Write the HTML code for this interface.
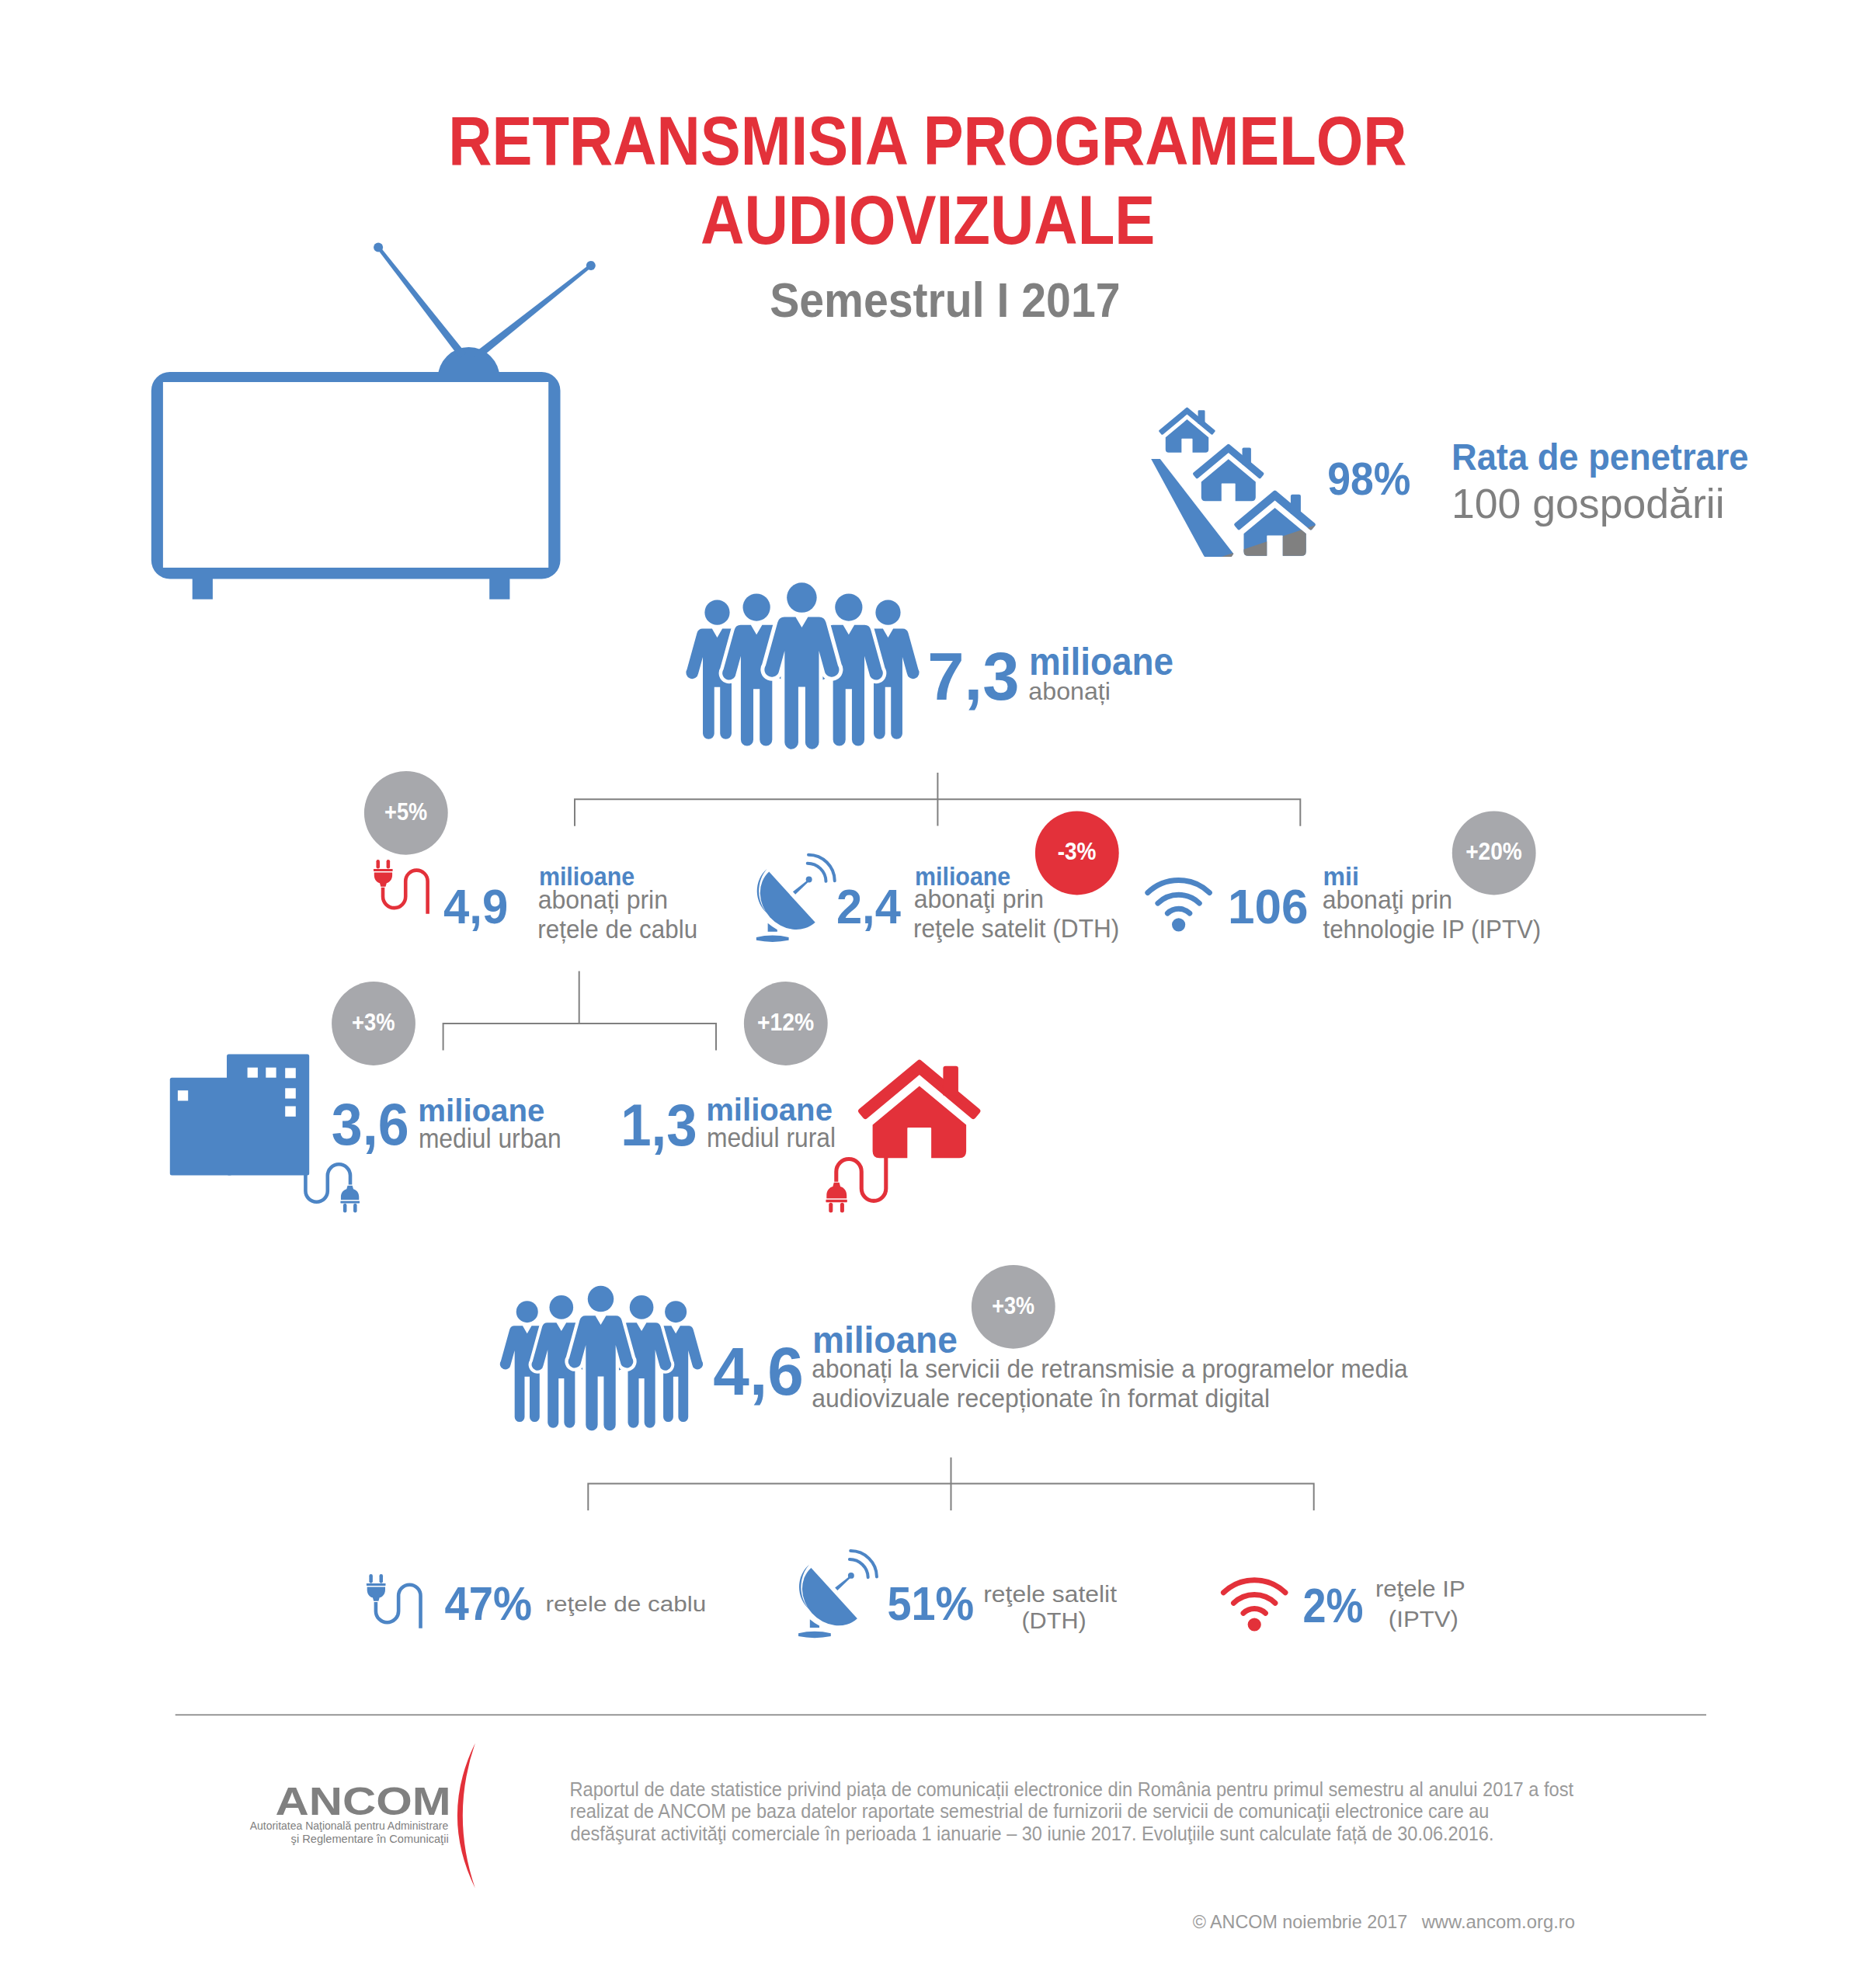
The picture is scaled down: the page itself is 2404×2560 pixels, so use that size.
<!DOCTYPE html>
<html><head><meta charset="utf-8"><title>Retransmisia programelor audiovizuale</title>
<style>
html,body{margin:0;padding:0;background:#fff;}
body{width:2404px;height:2560px;overflow:hidden;position:relative;}
svg{position:absolute;left:0;top:0;display:block;}
text{font-family:"Liberation Sans",sans-serif;}
</style></head><body>
<svg width="2404" height="2560" viewBox="0 0 2404 2560">
<rect width="2404" height="2560" fill="#FFFFFF"/>
<path fill="#4D85C5" fill-rule="evenodd" d="M218.8,479 H697.5 A24,24 0 0 1 721.5,503 V721.5 A24,24 0 0 1 697.5,745.5 H218.8 A24,24 0 0 1 194.8,721.5 V503 A24,24 0 0 1 218.8,479 Z M209.9,492.1 V731 H706.2 V492.1 Z"/>
<rect x="247.7" y="744" width="26.2" height="27.7" fill="#4D85C5"/>
<rect x="630.2" y="744" width="26.2" height="27.7" fill="#4D85C5"/>
<clipPath id="domeclip"><rect x="500" y="400" width="200" height="85"/></clipPath>
<circle cx="603.6" cy="486.8" r="39.8" fill="#4D85C5" clip-path="url(#domeclip)"/>
<polygon fill="#4D85C5" points="485.33,319.88 592.06,461.08 599.94,454.92 488.87,317.12"/>
<polygon fill="#4D85C5" points="759.40,340.24 608.74,455.89 615.26,464.11 762.20,343.76"/>
<circle cx="487.1" cy="318.5" r="6" fill="#4D85C5"/>
<circle cx="760.8" cy="342" r="6" fill="#4D85C5"/>
<path fill="none" stroke="#808080" stroke-width="2" d="M1207.4,995.0 V1063.5 M740.0,1063.8 V1029.2 H1674.3 V1063.8"/>
<path fill="none" stroke="#808080" stroke-width="2" d="M745.7,1250.5 V1318.0 M570.6,1352.5 V1318.0 H922.0 V1352.5"/>
<path fill="none" stroke="#808080" stroke-width="2" d="M1224.5,1876.8 V1945.0 M757.3,1945.0 V1910.4 H1691.7 V1945.0"/>
<rect x="225.7" y="2207.5" width="1971.3" height="1.6" fill="#808080"/>
<circle cx="522.80" cy="1046.80" r="53.9" fill="#A7A8AC"/>
<circle cx="1386.80" cy="1098.50" r="53.9" fill="#E3313A"/>
<circle cx="1923.70" cy="1098.50" r="53.9" fill="#A7A8AC"/>
<circle cx="481.00" cy="1318.00" r="53.9" fill="#A7A8AC"/>
<circle cx="1011.80" cy="1318.00" r="53.9" fill="#A7A8AC"/>
<circle cx="1304.80" cy="1682.80" r="53.9" fill="#A7A8AC"/>
<g transform="translate(1032.40,769.60) scale(0.16604)"><g transform="translate(-656.0,115.0) scale(0.8360)"><circle cx="0" cy="0" r="116" fill="#4D85C5"/><path d="M-135,150 L-48,150 L0,232 L48,150 L135,150 Q175,150 187,190 L280,527 A57,57 0 1 1 176,567 L133,412 L133,1122 A53,53 0 0 1 27,1122 L27,692 L-27,692 L-27,1122 A53,53 0 0 1 -133,1122 L-133,412 L-176,567 A57,57 0 1 1 -280,527 L-187,190 Q-175,150 -135,150 Z" fill="#4D85C5"/></g><g transform="translate(669.0,115.0) scale(0.8360)"><circle cx="0" cy="0" r="116" fill="#4D85C5"/><path d="M-135,150 L-48,150 L0,232 L48,150 L135,150 Q175,150 187,190 L280,527 A57,57 0 1 1 176,567 L133,412 L133,1122 A53,53 0 0 1 27,1122 L27,692 L-27,692 L-27,1122 A53,53 0 0 1 -133,1122 L-133,412 L-176,567 A57,57 0 1 1 -280,527 L-187,190 Q-175,150 -135,150 Z" fill="#4D85C5"/></g><g transform="translate(-351.0,75.0) scale(0.9150)"><circle cx="0" cy="0" r="116" fill="#4D85C5"/><path d="M-135,150 L-48,150 L0,232 L48,150 L135,150 Q175,150 187,190 L280,527 A57,57 0 1 1 176,567 L133,412 L133,1122 A53,53 0 0 1 27,1122 L27,692 L-27,692 L-27,1122 A53,53 0 0 1 -133,1122 L-133,412 L-176,567 A57,57 0 1 1 -280,527 L-187,190 Q-175,150 -135,150 Z" fill="#4D85C5" stroke="#FFFFFF" stroke-width="60" stroke-linejoin="round" paint-order="stroke"/></g><g transform="translate(364.0,75.0) scale(0.9150)"><circle cx="0" cy="0" r="116" fill="#4D85C5"/><path d="M-135,150 L-48,150 L0,232 L48,150 L135,150 Q175,150 187,190 L280,527 A57,57 0 1 1 176,567 L133,412 L133,1122 A53,53 0 0 1 27,1122 L27,692 L-27,692 L-27,1122 A53,53 0 0 1 -133,1122 L-133,412 L-176,567 A57,57 0 1 1 -280,527 L-187,190 Q-175,150 -135,150 Z" fill="#4D85C5" stroke="#FFFFFF" stroke-width="60" stroke-linejoin="round" paint-order="stroke"/></g><g transform="translate(0.0,0.0) scale(1.0000)"><circle cx="0" cy="0" r="116" fill="#4D85C5"/><path d="M-135,150 L-48,150 L0,232 L48,150 L135,150 Q175,150 187,190 L280,527 A57,57 0 1 1 176,567 L133,412 L133,1122 A53,53 0 0 1 27,1122 L27,692 L-27,692 L-27,1122 A53,53 0 0 1 -133,1122 L-133,412 L-176,567 A57,57 0 1 1 -280,527 L-187,190 Q-175,150 -135,150 Z" fill="#4D85C5" stroke="#FFFFFF" stroke-width="60" stroke-linejoin="round" paint-order="stroke"/></g></g>
<g transform="translate(773.50,1672.60) scale(0.14445)"><g transform="translate(-656.0,115.0) scale(0.8360)"><circle cx="0" cy="0" r="116" fill="#4D85C5"/><path d="M-135,150 L-48,150 L0,232 L48,150 L135,150 Q175,150 187,190 L280,527 A57,57 0 1 1 176,567 L133,412 L133,1122 A53,53 0 0 1 27,1122 L27,692 L-27,692 L-27,1122 A53,53 0 0 1 -133,1122 L-133,412 L-176,567 A57,57 0 1 1 -280,527 L-187,190 Q-175,150 -135,150 Z" fill="#4D85C5"/></g><g transform="translate(669.0,115.0) scale(0.8360)"><circle cx="0" cy="0" r="116" fill="#4D85C5"/><path d="M-135,150 L-48,150 L0,232 L48,150 L135,150 Q175,150 187,190 L280,527 A57,57 0 1 1 176,567 L133,412 L133,1122 A53,53 0 0 1 27,1122 L27,692 L-27,692 L-27,1122 A53,53 0 0 1 -133,1122 L-133,412 L-176,567 A57,57 0 1 1 -280,527 L-187,190 Q-175,150 -135,150 Z" fill="#4D85C5"/></g><g transform="translate(-351.0,75.0) scale(0.9150)"><circle cx="0" cy="0" r="116" fill="#4D85C5"/><path d="M-135,150 L-48,150 L0,232 L48,150 L135,150 Q175,150 187,190 L280,527 A57,57 0 1 1 176,567 L133,412 L133,1122 A53,53 0 0 1 27,1122 L27,692 L-27,692 L-27,1122 A53,53 0 0 1 -133,1122 L-133,412 L-176,567 A57,57 0 1 1 -280,527 L-187,190 Q-175,150 -135,150 Z" fill="#4D85C5" stroke="#FFFFFF" stroke-width="60" stroke-linejoin="round" paint-order="stroke"/></g><g transform="translate(364.0,75.0) scale(0.9150)"><circle cx="0" cy="0" r="116" fill="#4D85C5"/><path d="M-135,150 L-48,150 L0,232 L48,150 L135,150 Q175,150 187,190 L280,527 A57,57 0 1 1 176,567 L133,412 L133,1122 A53,53 0 0 1 27,1122 L27,692 L-27,692 L-27,1122 A53,53 0 0 1 -133,1122 L-133,412 L-176,567 A57,57 0 1 1 -280,527 L-187,190 Q-175,150 -135,150 Z" fill="#4D85C5" stroke="#FFFFFF" stroke-width="60" stroke-linejoin="round" paint-order="stroke"/></g><g transform="translate(0.0,0.0) scale(1.0000)"><circle cx="0" cy="0" r="116" fill="#4D85C5"/><path d="M-135,150 L-48,150 L0,232 L48,150 L135,150 Q175,150 187,190 L280,527 A57,57 0 1 1 176,567 L133,412 L133,1122 A53,53 0 0 1 27,1122 L27,692 L-27,692 L-27,1122 A53,53 0 0 1 -133,1122 L-133,412 L-176,567 A57,57 0 1 1 -280,527 L-187,190 Q-175,150 -135,150 Z" fill="#4D85C5" stroke="#FFFFFF" stroke-width="60" stroke-linejoin="round" paint-order="stroke"/></g></g>
<g fill="#4D85C5" transform="translate(1020.00,1990.00) scale(0.064275)"><path d="M380,450 L1305,1465 A686,600 47.66 0 1 380,450 Z"/><path d="M340,390 C70,620 72,1060 355,1290 C122,1060 120,640 340,390 Z"/><polygon points="858,848 1130,635 1158,662 908,902"/><circle cx="1180" cy="605" r="62"/><path d="M1150,280 A370,370 0 0 1 1520,640" fill="none" stroke="#4D85C5" stroke-width="62" stroke-linecap="round"/><path d="M1170,110 A525,525 0 0 1 1695,630" fill="none" stroke="#4D85C5" stroke-width="62" stroke-linecap="round"/><path d="M355,1480 Q450,1560 545,1610 L545,1650 L355,1650 Z"/><path d="M125,1762 Q450,1688 775,1762 V1822 Q450,1888 125,1822 Z"/></g>
<g fill="#4D85C5" transform="translate(965.80,1093.70) scale(0.064275)"><path d="M380,450 L1305,1465 A686,600 47.66 0 1 380,450 Z"/><path d="M340,390 C70,620 72,1060 355,1290 C122,1060 120,640 340,390 Z"/><polygon points="858,848 1130,635 1158,662 908,902"/><circle cx="1180" cy="605" r="62"/><path d="M1150,280 A370,370 0 0 1 1520,640" fill="none" stroke="#4D85C5" stroke-width="62" stroke-linecap="round"/><path d="M1170,110 A525,525 0 0 1 1695,630" fill="none" stroke="#4D85C5" stroke-width="62" stroke-linecap="round"/><path d="M355,1480 Q450,1560 545,1610 L545,1650 L355,1650 Z"/><path d="M125,1762 Q450,1688 775,1762 V1822 Q450,1888 125,1822 Z"/></g>
<g fill="none" stroke="#4D85C5" stroke-width="6.9" stroke-linecap="round"><path d="M1503.36,1176.05 A20.50,20.50 0 0 1 1531.84,1176.05"/><path d="M1490.86,1163.11 A38.50,38.50 0 0 1 1544.34,1163.11"/><path d="M1477.80,1149.58 A57.30,57.30 0 0 1 1557.40,1149.58"/></g><circle cx="1517.60" cy="1190.80" r="8.6" fill="#4D85C5"/>
<g fill="none" stroke="#E3313A" stroke-width="6.9" stroke-linecap="round"><path d="M1600.96,2077.25 A20.50,20.50 0 0 1 1629.44,2077.25"/><path d="M1588.46,2064.31 A38.50,38.50 0 0 1 1641.94,2064.31"/><path d="M1575.40,2050.78 A57.30,57.30 0 0 1 1655.00,2050.78"/></g><circle cx="1615.20" cy="2092.00" r="8.6" fill="#E3313A"/>
<g fill="#E3313A" color="#E3313A" transform="translate(493.74,1141.10) rotate(0) scale(0.24102,0.24102)"><rect x="-38.5" y="-141.6" width="18.8" height="48" rx="9.4"/><rect x="16" y="-141.6" width="18.8" height="48" rx="9.4"/><rect x="-52.9" y="-91.6" width="102.2" height="12.2" rx="2"/><path d="M-49.6,-73 H47.1 V-58 C47.1,-35 33,-20 16.9,-16 L11.4,2.8 H-14.2 L-19.7,-16 C-36,-20 -49.6,-35 -49.6,-58 Z"/><path d="M-3,7.3 L-3,55.8 A60.6,60.6 0 0 0 118.2,55.8 L118.2,-26.2 A58.9,58.9 0 0 1 236,-26.2 L236,147.4" fill="none" stroke="currentColor" stroke-width="19"/></g>
<g fill="#4D85C5" color="#4D85C5" transform="translate(484.64,2061.20) rotate(0) scale(0.24102,0.24102)"><rect x="-38.5" y="-141.6" width="18.8" height="48" rx="9.4"/><rect x="16" y="-141.6" width="18.8" height="48" rx="9.4"/><rect x="-52.9" y="-91.6" width="102.2" height="12.2" rx="2"/><path d="M-49.6,-73 H47.1 V-58 C47.1,-35 33,-20 16.9,-16 L11.4,2.8 H-14.2 L-19.7,-16 C-36,-20 -49.6,-35 -49.6,-58 Z"/><path d="M-3,7.3 L-3,55.8 A60.6,60.6 0 0 0 118.2,55.8 L118.2,-26.2 A58.9,58.9 0 0 1 236,-26.2 L236,147.4" fill="none" stroke="currentColor" stroke-width="19"/></g>
<g fill="#4D85C5" color="#4D85C5" transform="translate(450.30,1527.30) rotate(180) scale(0.24102,0.24102)"><rect x="-38.5" y="-141.6" width="18.8" height="48" rx="9.4"/><rect x="16" y="-141.6" width="18.8" height="48" rx="9.4"/><rect x="-52.9" y="-91.6" width="102.2" height="12.2" rx="2"/><path d="M-49.6,-73 H47.1 V-58 C47.1,-35 33,-20 16.9,-16 L11.4,2.8 H-14.2 L-19.7,-16 C-36,-20 -49.6,-35 -49.6,-58 Z"/><path d="M-3,7.3 L-3,55.8 A60.6,60.6 0 0 0 118.2,55.8 L118.2,-26.2 A58.9,58.9 0 0 1 236,-26.2 L236,147.4" fill="none" stroke="currentColor" stroke-width="19"/></g>
<g fill="#E3313A" color="#E3313A" transform="translate(1077.60,1523.60) rotate(180) scale(-0.26780,0.26780)"><rect x="-38.5" y="-141.6" width="18.8" height="48" rx="9.4"/><rect x="16" y="-141.6" width="18.8" height="48" rx="9.4"/><rect x="-52.9" y="-91.6" width="102.2" height="12.2" rx="2"/><path d="M-49.6,-73 H47.1 V-58 C47.1,-35 33,-20 16.9,-16 L11.4,2.8 H-14.2 L-19.7,-16 C-36,-20 -49.6,-35 -49.6,-58 Z"/><path d="M-3,7.3 L-3,55.8 A60.6,60.6 0 0 0 118.2,55.8 L118.2,-26.2 A58.9,58.9 0 0 1 236,-26.2 L236,147.4" fill="none" stroke="currentColor" stroke-width="19"/></g>
<rect x="218.8" y="1387.7" width="80" height="125.9" rx="2.5" fill="#4D85C5"/>
<rect x="292" y="1357.4" width="106.2" height="156.2" rx="2.5" fill="#4D85C5"/>
<rect x="228.9" y="1404.2" width="13.3" height="13.3" fill="#FFFFFF"/>
<rect x="318.6" y="1374.7" width="13.3" height="13.0" fill="#FFFFFF"/>
<rect x="342.3" y="1374.7" width="13.3" height="13.0" fill="#FFFFFF"/>
<rect x="367.2" y="1375.3" width="13.6" height="13.0" fill="#FFFFFF"/>
<rect x="367.2" y="1401.3" width="13.6" height="13.3" fill="#FFFFFF"/>
<rect x="367.2" y="1424.5" width="13.6" height="13.3" fill="#FFFFFF"/>
<g transform="translate(1183.86,1363.57) scale(0.26780)"><polygon points="-260.0,276.4 -281.1,251.0 0.0,17.0 280.1,251.0 258.9,276.3 -0.0,60.0" fill="#E3313A" stroke="#E3313A" stroke-width="26" stroke-linejoin="round"/><path d="M114,175 V46 Q114,34 126,34 H175 Q187,34 187,46 V175 Z" fill="#E3313A"/><path d="M0,130 L225,317 V444 Q225,477 192,477 H57 V334 Q57,330 53,330 H-54 Q-58,330 -58,334 V477 H-192 Q-225,477 -225,444 V317 Z" fill="#E3313A"/></g>
<clipPath id="hgray"><polygon points="1400,775.23 1800,640.41 1800,800 1400,800"/></clipPath>
<g fill="#4D85C5"><polygon points="1482.2,591 1493.8,591 1588.3,713.1 1585.7,717 1551,717 1549.7,715"/><g transform="translate(1528.50,524.10) scale(0.12320)"><polygon points="-260.0,276.4 -281.1,251.0 0.0,17.0 280.1,251.0 258.9,276.3 -0.0,60.0" fill="#4D85C5" stroke="#4D85C5" stroke-width="26" stroke-linejoin="round"/><path d="M114,175 V46 Q114,34 126,34 H175 Q187,34 187,46 V175 Z" fill="#4D85C5"/><path d="M0,130 L225,317 V444 Q225,477 192,477 H57 V334 Q57,330 53,330 H-54 Q-58,330 -58,334 V477 H-192 Q-225,477 -225,444 V317 Z" fill="#4D85C5"/></g><g transform="translate(1581.80,571.10) scale(0.15560)"><polygon points="-260.0,276.4 -281.1,251.0 0.0,17.0 280.1,251.0 258.9,276.3 -0.0,60.0" fill="#4D85C5" stroke="#4D85C5" stroke-width="26" stroke-linejoin="round"/><path d="M114,175 V46 Q114,34 126,34 H175 Q187,34 187,46 V175 Z" fill="#4D85C5"/><path d="M0,130 L225,317 V444 Q225,477 192,477 H57 V334 Q57,330 53,330 H-54 Q-58,330 -58,334 V477 H-192 Q-225,477 -225,444 V317 Z" fill="#4D85C5"/></g><g transform="translate(1641.60,630.80) scale(0.17820)"><polygon points="-260.0,276.4 -281.1,251.0 0.0,17.0 280.1,251.0 258.9,276.3 -0.0,60.0" fill="#4D85C5" stroke="#4D85C5" stroke-width="26" stroke-linejoin="round"/><path d="M114,175 V46 Q114,34 126,34 H175 Q187,34 187,46 V175 Z" fill="#4D85C5"/><path d="M0,130 L225,317 V444 Q225,477 192,477 H57 V334 Q57,330 53,330 H-54 Q-58,330 -58,334 V477 H-192 Q-225,477 -225,444 V317 Z" fill="#4D85C5"/></g></g>
<g fill="#808080" clip-path="url(#hgray)"><polygon points="1482.2,591 1493.8,591 1588.3,713.1 1585.7,717 1551,717 1549.7,715"/><g transform="translate(1528.50,524.10) scale(0.12320)"><polygon points="-260.0,276.4 -281.1,251.0 0.0,17.0 280.1,251.0 258.9,276.3 -0.0,60.0" fill="#808080" stroke="#808080" stroke-width="26" stroke-linejoin="round"/><path d="M114,175 V46 Q114,34 126,34 H175 Q187,34 187,46 V175 Z" fill="#808080"/><path d="M0,130 L225,317 V444 Q225,477 192,477 H57 V334 Q57,330 53,330 H-54 Q-58,330 -58,334 V477 H-192 Q-225,477 -225,444 V317 Z" fill="#808080"/></g><g transform="translate(1581.80,571.10) scale(0.15560)"><polygon points="-260.0,276.4 -281.1,251.0 0.0,17.0 280.1,251.0 258.9,276.3 -0.0,60.0" fill="#808080" stroke="#808080" stroke-width="26" stroke-linejoin="round"/><path d="M114,175 V46 Q114,34 126,34 H175 Q187,34 187,46 V175 Z" fill="#808080"/><path d="M0,130 L225,317 V444 Q225,477 192,477 H57 V334 Q57,330 53,330 H-54 Q-58,330 -58,334 V477 H-192 Q-225,477 -225,444 V317 Z" fill="#808080"/></g><g transform="translate(1641.60,630.80) scale(0.17820)"><polygon points="-260.0,276.4 -281.1,251.0 0.0,17.0 280.1,251.0 258.9,276.3 -0.0,60.0" fill="#808080" stroke="#808080" stroke-width="26" stroke-linejoin="round"/><path d="M114,175 V46 Q114,34 126,34 H175 Q187,34 187,46 V175 Z" fill="#808080"/><path d="M0,130 L225,317 V444 Q225,477 192,477 H57 V334 Q57,330 53,330 H-54 Q-58,330 -58,334 V477 H-192 Q-225,477 -225,444 V317 Z" fill="#808080"/></g></g>
<path d="M611.8,2244.8 Q566,2338 611.8,2431.4 Q579.8,2338 611.8,2244.8 Z" fill="#E3313A"/>
<text x="577.30" y="212.00" font-size="88.08" font-weight="bold" fill="#E3313A" textLength="1234.29" lengthAdjust="spacingAndGlyphs">RETRANSMISIA PROGRAMELOR</text>
<text x="902.06" y="314.00" font-size="88.08" font-weight="bold" fill="#E3313A" textLength="585.39" lengthAdjust="spacingAndGlyphs">AUDIOVIZUALE</text>
<text x="991.15" y="408.30" font-size="62.50" font-weight="bold" fill="#808080" textLength="451.36" lengthAdjust="spacingAndGlyphs">Semestrul I 2017</text>
<text x="1709.14" y="637.40" font-size="59.59" font-weight="bold" fill="#4D85C5" textLength="107.27" lengthAdjust="spacingAndGlyphs">98%</text>
<text x="1868.97" y="605.00" font-size="48.55" font-weight="bold" fill="#4D85C5" textLength="382.58" lengthAdjust="spacingAndGlyphs">Rata de penetrare</text>
<text x="1868.92" y="667.00" font-size="53.78" font-weight="normal" fill="#808080" textLength="351.70" lengthAdjust="spacingAndGlyphs">100 gospodării</text>
<text x="1194.35" y="901.00" font-size="87.21" font-weight="bold" fill="#4D85C5" textLength="118.12" lengthAdjust="spacingAndGlyphs">7,3</text>
<text x="1324.98" y="869.00" font-size="49.13" font-weight="bold" fill="#4D85C5" textLength="185.99" lengthAdjust="spacingAndGlyphs">milioane</text>
<text x="1324.33" y="901.00" font-size="31.05" font-weight="normal" fill="#808080" textLength="105.64" lengthAdjust="spacingAndGlyphs">abonați</text>
<text x="571.09" y="1189.00" font-size="62.50" font-weight="bold" fill="#4D85C5" textLength="83.12" lengthAdjust="spacingAndGlyphs">4,9</text>
<text x="693.90" y="1140.40" font-size="32.29" font-weight="bold" fill="#4D85C5" textLength="123.24" lengthAdjust="spacingAndGlyphs">milioane</text>
<text x="692.64" y="1170.00" font-size="32.57" font-weight="normal" fill="#808080" textLength="167.44" lengthAdjust="spacingAndGlyphs">abonați prin</text>
<text x="692.32" y="1208.00" font-size="32.57" font-weight="normal" fill="#808080" textLength="205.77" lengthAdjust="spacingAndGlyphs">rețele de cablu</text>
<text x="1076.93" y="1189.00" font-size="62.50" font-weight="bold" fill="#4D85C5" textLength="82.89" lengthAdjust="spacingAndGlyphs">2,4</text>
<text x="1178.00" y="1139.50" font-size="32.29" font-weight="bold" fill="#4D85C5" textLength="123.24" lengthAdjust="spacingAndGlyphs">milioane</text>
<text x="1176.64" y="1169.00" font-size="32.57" font-weight="normal" fill="#808080" textLength="167.44" lengthAdjust="spacingAndGlyphs">abonaţi prin</text>
<text x="1175.90" y="1207.00" font-size="32.57" font-weight="normal" fill="#808080" textLength="265.46" lengthAdjust="spacingAndGlyphs">reţele satelit (DTH)</text>
<text x="1581.09" y="1189.40" font-size="62.50" font-weight="bold" fill="#4D85C5" textLength="103.45" lengthAdjust="spacingAndGlyphs">106</text>
<text x="1703.48" y="1139.70" font-size="32.29" font-weight="bold" fill="#4D85C5" textLength="46.39" lengthAdjust="spacingAndGlyphs">mii</text>
<text x="1702.64" y="1169.50" font-size="32.57" font-weight="normal" fill="#808080" textLength="167.44" lengthAdjust="spacingAndGlyphs">abonaţi prin</text>
<text x="1703.53" y="1208.00" font-size="32.57" font-weight="normal" fill="#808080" textLength="280.71" lengthAdjust="spacingAndGlyphs">tehnologie IP (IPTV)</text>
<text x="426.85" y="1473.60" font-size="76.45" font-weight="bold" fill="#4D85C5" textLength="99.74" lengthAdjust="spacingAndGlyphs">3,6</text>
<text x="538.35" y="1443.60" font-size="41.13" font-weight="bold" fill="#4D85C5" textLength="163.02" lengthAdjust="spacingAndGlyphs">milioane</text>
<text x="538.89" y="1478.30" font-size="35.19" font-weight="normal" fill="#808080" textLength="183.88" lengthAdjust="spacingAndGlyphs">mediul urban</text>
<text x="799.14" y="1475.00" font-size="76.45" font-weight="bold" fill="#4D85C5" textLength="98.42" lengthAdjust="spacingAndGlyphs">1,3</text>
<text x="909.15" y="1442.60" font-size="41.13" font-weight="bold" fill="#4D85C5" textLength="162.82" lengthAdjust="spacingAndGlyphs">milioane</text>
<text x="909.89" y="1476.60" font-size="35.19" font-weight="normal" fill="#808080" textLength="166.24" lengthAdjust="spacingAndGlyphs">mediul rural</text>
<text x="918.33" y="1796.20" font-size="87.21" font-weight="bold" fill="#4D85C5" textLength="116.39" lengthAdjust="spacingAndGlyphs">4,6</text>
<text x="1045.96" y="1741.70" font-size="48.85" font-weight="bold" fill="#4D85C5" textLength="186.91" lengthAdjust="spacingAndGlyphs">milioane</text>
<text x="1045.36" y="1773.80" font-size="33.12" font-weight="normal" fill="#808080" textLength="767.24" lengthAdjust="spacingAndGlyphs">abonați la servicii de retransmisie a programelor media</text>
<text x="1045.34" y="1811.60" font-size="33.12" font-weight="normal" fill="#808080" textLength="589.69" lengthAdjust="spacingAndGlyphs">audiovizuale recepționate în format digital</text>
<text x="572.45" y="2085.60" font-size="61.48" font-weight="bold" fill="#4D85C5" textLength="112.53" lengthAdjust="spacingAndGlyphs">47%</text>
<text x="702.61" y="2074.60" font-size="28.02" font-weight="normal" fill="#808080" textLength="206.68" lengthAdjust="spacingAndGlyphs">reţele de cablu</text>
<text x="1142.48" y="2086.40" font-size="61.48" font-weight="bold" fill="#4D85C5" textLength="111.69" lengthAdjust="spacingAndGlyphs">51%</text>
<text x="1266.28" y="2062.80" font-size="28.71" font-weight="normal" fill="#808080" textLength="171.75" lengthAdjust="spacingAndGlyphs">reţele satelit</text>
<text x="1315.40" y="2097.30" font-size="28.71" font-weight="normal" fill="#808080" textLength="83.30" lengthAdjust="spacingAndGlyphs">(DTH)</text>
<text x="1677.43" y="2089.20" font-size="62.50" font-weight="bold" fill="#4D85C5" textLength="77.99" lengthAdjust="spacingAndGlyphs">2%</text>
<text x="1770.94" y="2056.40" font-size="30.09" font-weight="normal" fill="#808080" textLength="115.70" lengthAdjust="spacingAndGlyphs">reţele IP</text>
<text x="1787.87" y="2094.70" font-size="30.09" font-weight="normal" fill="#808080" textLength="90.07" lengthAdjust="spacingAndGlyphs">(IPTV)</text>
<text x="354.51" y="2336.90" font-size="50.73" font-weight="bold" fill="#808080" textLength="226.20" lengthAdjust="spacingAndGlyphs">ANCOM</text>
<text x="321.67" y="2355.60" font-size="13.81" font-weight="normal" fill="#808080" textLength="255.65" lengthAdjust="spacingAndGlyphs">Autoritatea Naţională pentru Administrare</text>
<text x="374.59" y="2372.50" font-size="13.81" font-weight="normal" fill="#808080" textLength="203.09" lengthAdjust="spacingAndGlyphs">şi Reglementare în Comunicaţii</text>
<text x="733.46" y="2312.50" font-size="25.00" font-weight="normal" fill="#9A9A9A" textLength="1292.71" lengthAdjust="spacingAndGlyphs">Raportul de date statistice privind piața de comunicații electronice din România pentru primul semestru al anului 2017 a fost</text>
<text x="733.84" y="2340.80" font-size="25.00" font-weight="normal" fill="#9A9A9A" textLength="1183.51" lengthAdjust="spacingAndGlyphs">realizat de ANCOM pe baza datelor raportate semestrial de furnizorii de servicii de comunicaţii electronice care au</text>
<text x="734.41" y="2369.60" font-size="25.00" font-weight="normal" fill="#9A9A9A" textLength="1189.03" lengthAdjust="spacingAndGlyphs">desfăşurat activităţi comerciale în perioada 1 ianuarie – 30 iunie 2017. Evoluţiile sunt calculate față de 30.06.2016.</text>
<text x="1535.65" y="2482.60" font-size="24.71" font-weight="normal" fill="#9A9A9A" textLength="276.52" lengthAdjust="spacingAndGlyphs">© ANCOM noiembrie 2017</text>
<text x="1830.63" y="2482.60" font-size="24.71" font-weight="normal" fill="#9A9A9A" textLength="197.36" lengthAdjust="spacingAndGlyphs">www.ancom.org.ro</text>
<text x="495.06" y="1055.50" font-size="30.96" font-weight="bold" fill="#FFFFFF" textLength="55.05" lengthAdjust="spacingAndGlyphs">+5%</text>
<text x="1361.71" y="1107.20" font-size="30.96" font-weight="bold" fill="#FFFFFF" textLength="49.83" lengthAdjust="spacingAndGlyphs">-3%</text>
<text x="1887.17" y="1107.20" font-size="30.96" font-weight="bold" fill="#FFFFFF" textLength="72.62" lengthAdjust="spacingAndGlyphs">+20%</text>
<text x="453.05" y="1326.70" font-size="30.96" font-weight="bold" fill="#FFFFFF" textLength="55.47" lengthAdjust="spacingAndGlyphs">+3%</text>
<text x="974.96" y="1326.70" font-size="30.96" font-weight="bold" fill="#FFFFFF" textLength="73.24" lengthAdjust="spacingAndGlyphs">+12%</text>
<text x="1277.17" y="1691.50" font-size="30.96" font-weight="bold" fill="#FFFFFF" textLength="54.85" lengthAdjust="spacingAndGlyphs">+3%</text>
</svg>
</body></html>
